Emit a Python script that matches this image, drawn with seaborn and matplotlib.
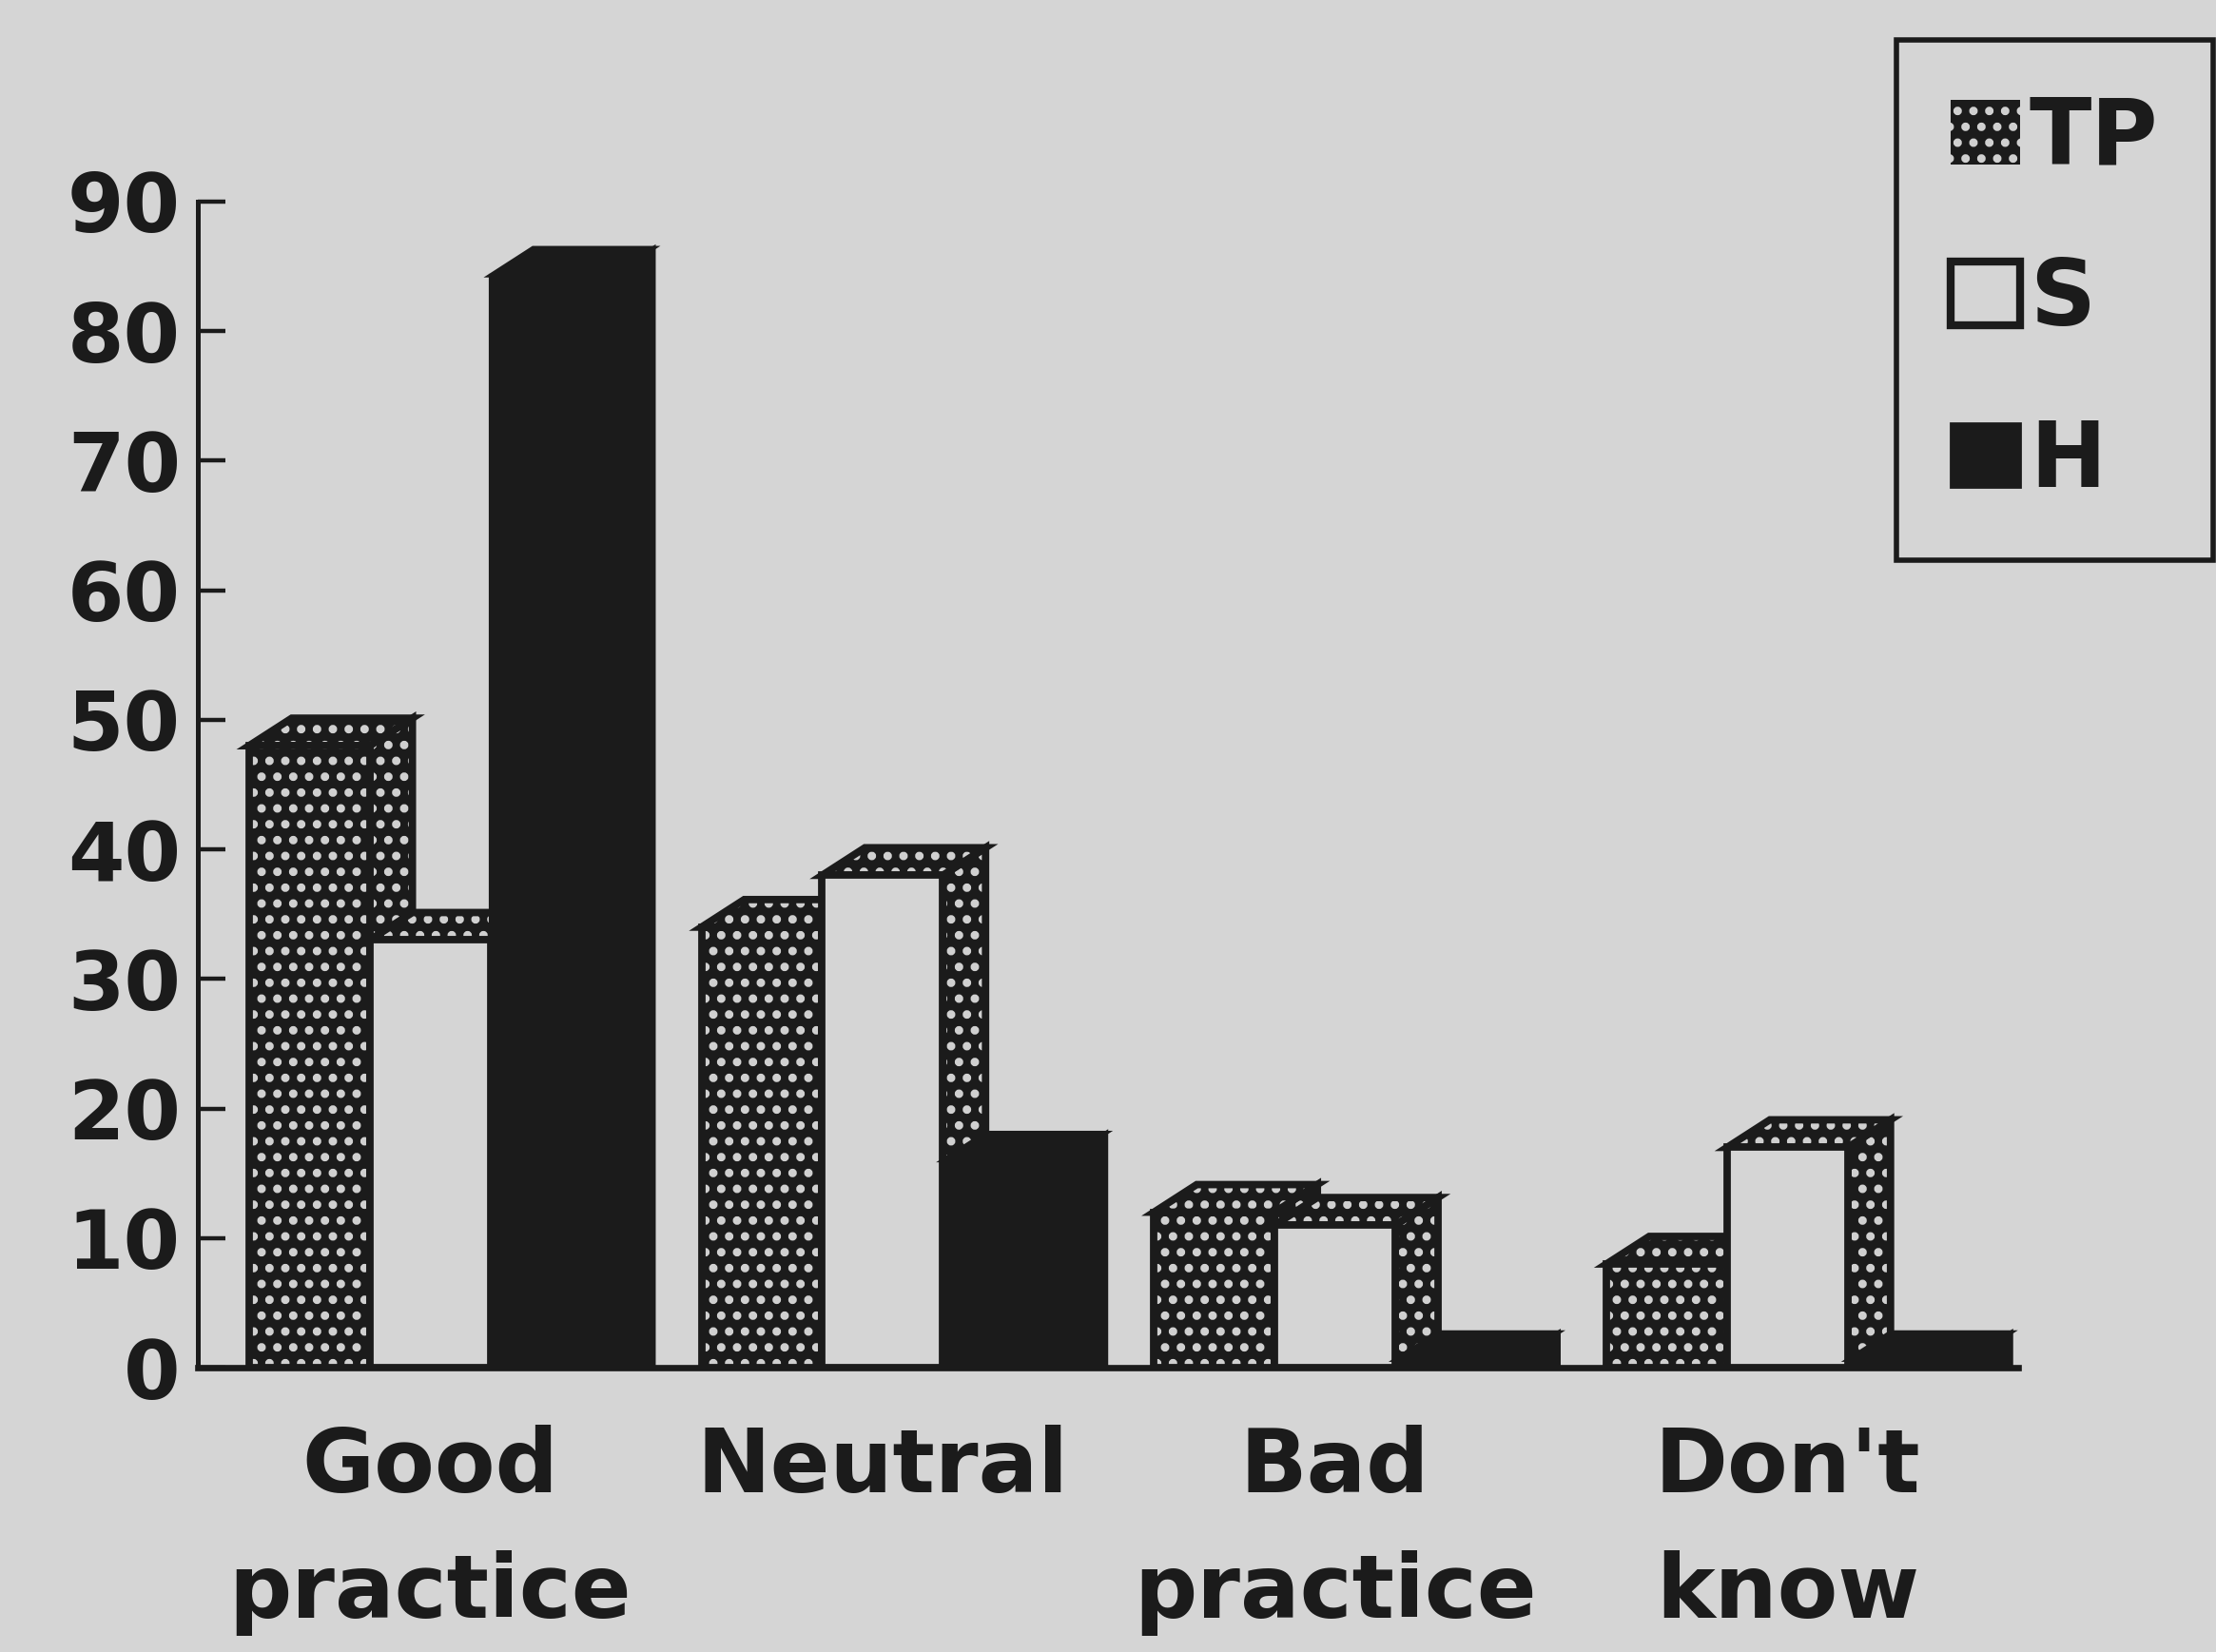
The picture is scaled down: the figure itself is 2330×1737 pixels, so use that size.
import matplotlib
matplotlib.use("Agg")
import matplotlib.pyplot as plt
import numpy as np
import pandas as pd
import seaborn as sns
from matplotlib.patches import Polygon, Patch

# ---- data -------------------------------------------------------------
categories = ["Good\npractice", "Neutral", "Bad\npractice", "Don't\nknow"]
series = ["TP", "S", "H"]
tp_values = [48, 34, 12, 8]
s_values = [33, 38, 11, 17]
h_values = [84.3, 16, 0.6, 0.6]
y_ticks = [0, 10, 20, 30, 40, 50, 60, 70, 80, 90]

df = pd.DataFrame({
    "category": categories * 3,
    "group": [g for g in series for _ in categories],
    "value": tp_values + s_values + h_values,
})

# ---- style ------------------------------------------------------------
BG = "#d5d5d5"
INK = "#1b1b1b"
DOT = "#d0d0d0"

sns.set_theme(style="white")
plt.rcParams["font.family"] = ["DejaVu Sans"]
plt.rcParams["font.weight"] = "bold"
plt.rcParams["hatch.linewidth"] = 2.0

W, H = 2330, 1737
DPI = 200
fig = plt.figure(figsize=(W / DPI, H / DPI), dpi=DPI, facecolor=BG)
ax = fig.add_axes([208 / W, 299 / H, (2122 - 208) / W, (1438 - 212) / H])
ax.set_facecolor(BG)

sns.barplot(data=df, x="category", y="value", hue="group",
            order=categories, hue_order=series,
            palette=[INK, BG, INK], saturation=1, width=0.8,
            errorbar=None, legend=False, ax=ax)

XLIM = (-0.513, 3.51)
ax.set_xlim(*XLIM)
ax.set_ylim(0, 90)

# depth of the oblique 3-D extrusion, in pixels
DEPTH_PX = (45, 29)
pos = ax.get_position()
dx = DEPTH_PX[0] * (XLIM[1] - XLIM[0]) / (pos.width * W)
dy = DEPTH_PX[1] * 90 / (pos.height * H)


def face(verts, kind, z):
    if kind == "dots":
        ax.add_patch(Polygon(verts, closed=True, facecolor=INK, edgecolor=DOT,
                             hatch="..", linewidth=0, zorder=z))
        ax.add_patch(Polygon(verts, closed=True, fill=False, edgecolor=INK,
                             linewidth=2.8, joinstyle="miter", zorder=z + 0.01))
    elif kind == "open":
        ax.add_patch(Polygon(verts, closed=True, facecolor=BG, edgecolor=INK,
                             linewidth=2.8, joinstyle="miter", zorder=z))
    else:
        ax.add_patch(Polygon(verts, closed=True, facecolor=INK, edgecolor=INK,
                             linewidth=1.5, joinstyle="miter", zorder=z))


styles = {"TP": ("dots", "dots", "dots"),
          "S": ("open", "dots", "dots"),
          "H": ("solid", "solid", "solid")}

for k, (name, container) in enumerate(zip(series, ax.containers)):
    front_kind, side_kind, top_kind = styles[name]
    for rect in container:
        x0 = rect.get_x()
        w = rect.get_width()
        v = rect.get_height()
        x1 = x0 + w
        z = 3 + k
        rect.set_visible(False)
        side = [(x1, 0), (x1, v), (x1 + dx, v + dy), (x1 + dx, 0)]
        top = [(x0, v), (x0 + dx, v + dy), (x1 + dx, v + dy), (x1, v)]
        front = [(x0, 0), (x0, v), (x1, v), (x1, 0)]
        face(side, side_kind, z)
        face(top, top_kind, z + 0.1)
        face(front, front_kind, z + 0.2)

# ---- axes -------------------------------------------------------------
for s in ("top", "right"):
    ax.spines[s].set_visible(False)
ax.spines["left"].set_linewidth(1.8)
ax.spines["left"].set_color(INK)
ax.spines["bottom"].set_linewidth(2.4)
ax.spines["bottom"].set_color(INK)
ax.spines["bottom"].set_zorder(10)

ax.set_yticks(y_ticks)
ax.set_yticklabels([str(t) for t in y_ticks])
ax.tick_params(axis="y", direction="in", length=10.5, width=1.6, color=INK,
               labelsize=30.8, labelcolor=INK, pad=6.5, left=True)
ax.tick_params(axis="x", length=0, labelsize=33.4, labelcolor=INK, pad=21.5)
ax.set_xlabel("")
ax.set_ylabel("")
for lbl in ax.get_xticklabels() + ax.get_yticklabels():
    lbl.set_fontweight("bold")
for lbl in ax.get_xticklabels():
    lbl.set_linespacing(1.59)

# ---- legend -----------------------------------------------------------
handles = [
    Patch(facecolor=INK, edgecolor=DOT, hatch="..", linewidth=0),
    Patch(facecolor=BG, edgecolor=INK, linewidth=3),
    Patch(facecolor=INK, edgecolor=INK, linewidth=1),
]
leg = fig.legend(handles, series, loc="upper left",
                 bbox_to_anchor=(1994 / W, 1 - 42 / H),
                 prop={"size": 34.5, "weight": "bold", "family": "DejaVu Sans"},
                 frameon=True, fancybox=False, shadow=False,
                 handlelength=0.76, handleheight=0.7, handletextpad=0.1,
                 labelspacing=0.8, borderpad=0.6, borderaxespad=0)
frame = leg.get_frame()
frame.set_edgecolor(INK)
frame.set_facecolor(BG)
frame.set_linewidth(2.0)
frame.set_alpha(1)
for t in leg.get_texts():
    t.set_color(INK)

fig.savefig("out.png", dpi=DPI, facecolor=BG)
